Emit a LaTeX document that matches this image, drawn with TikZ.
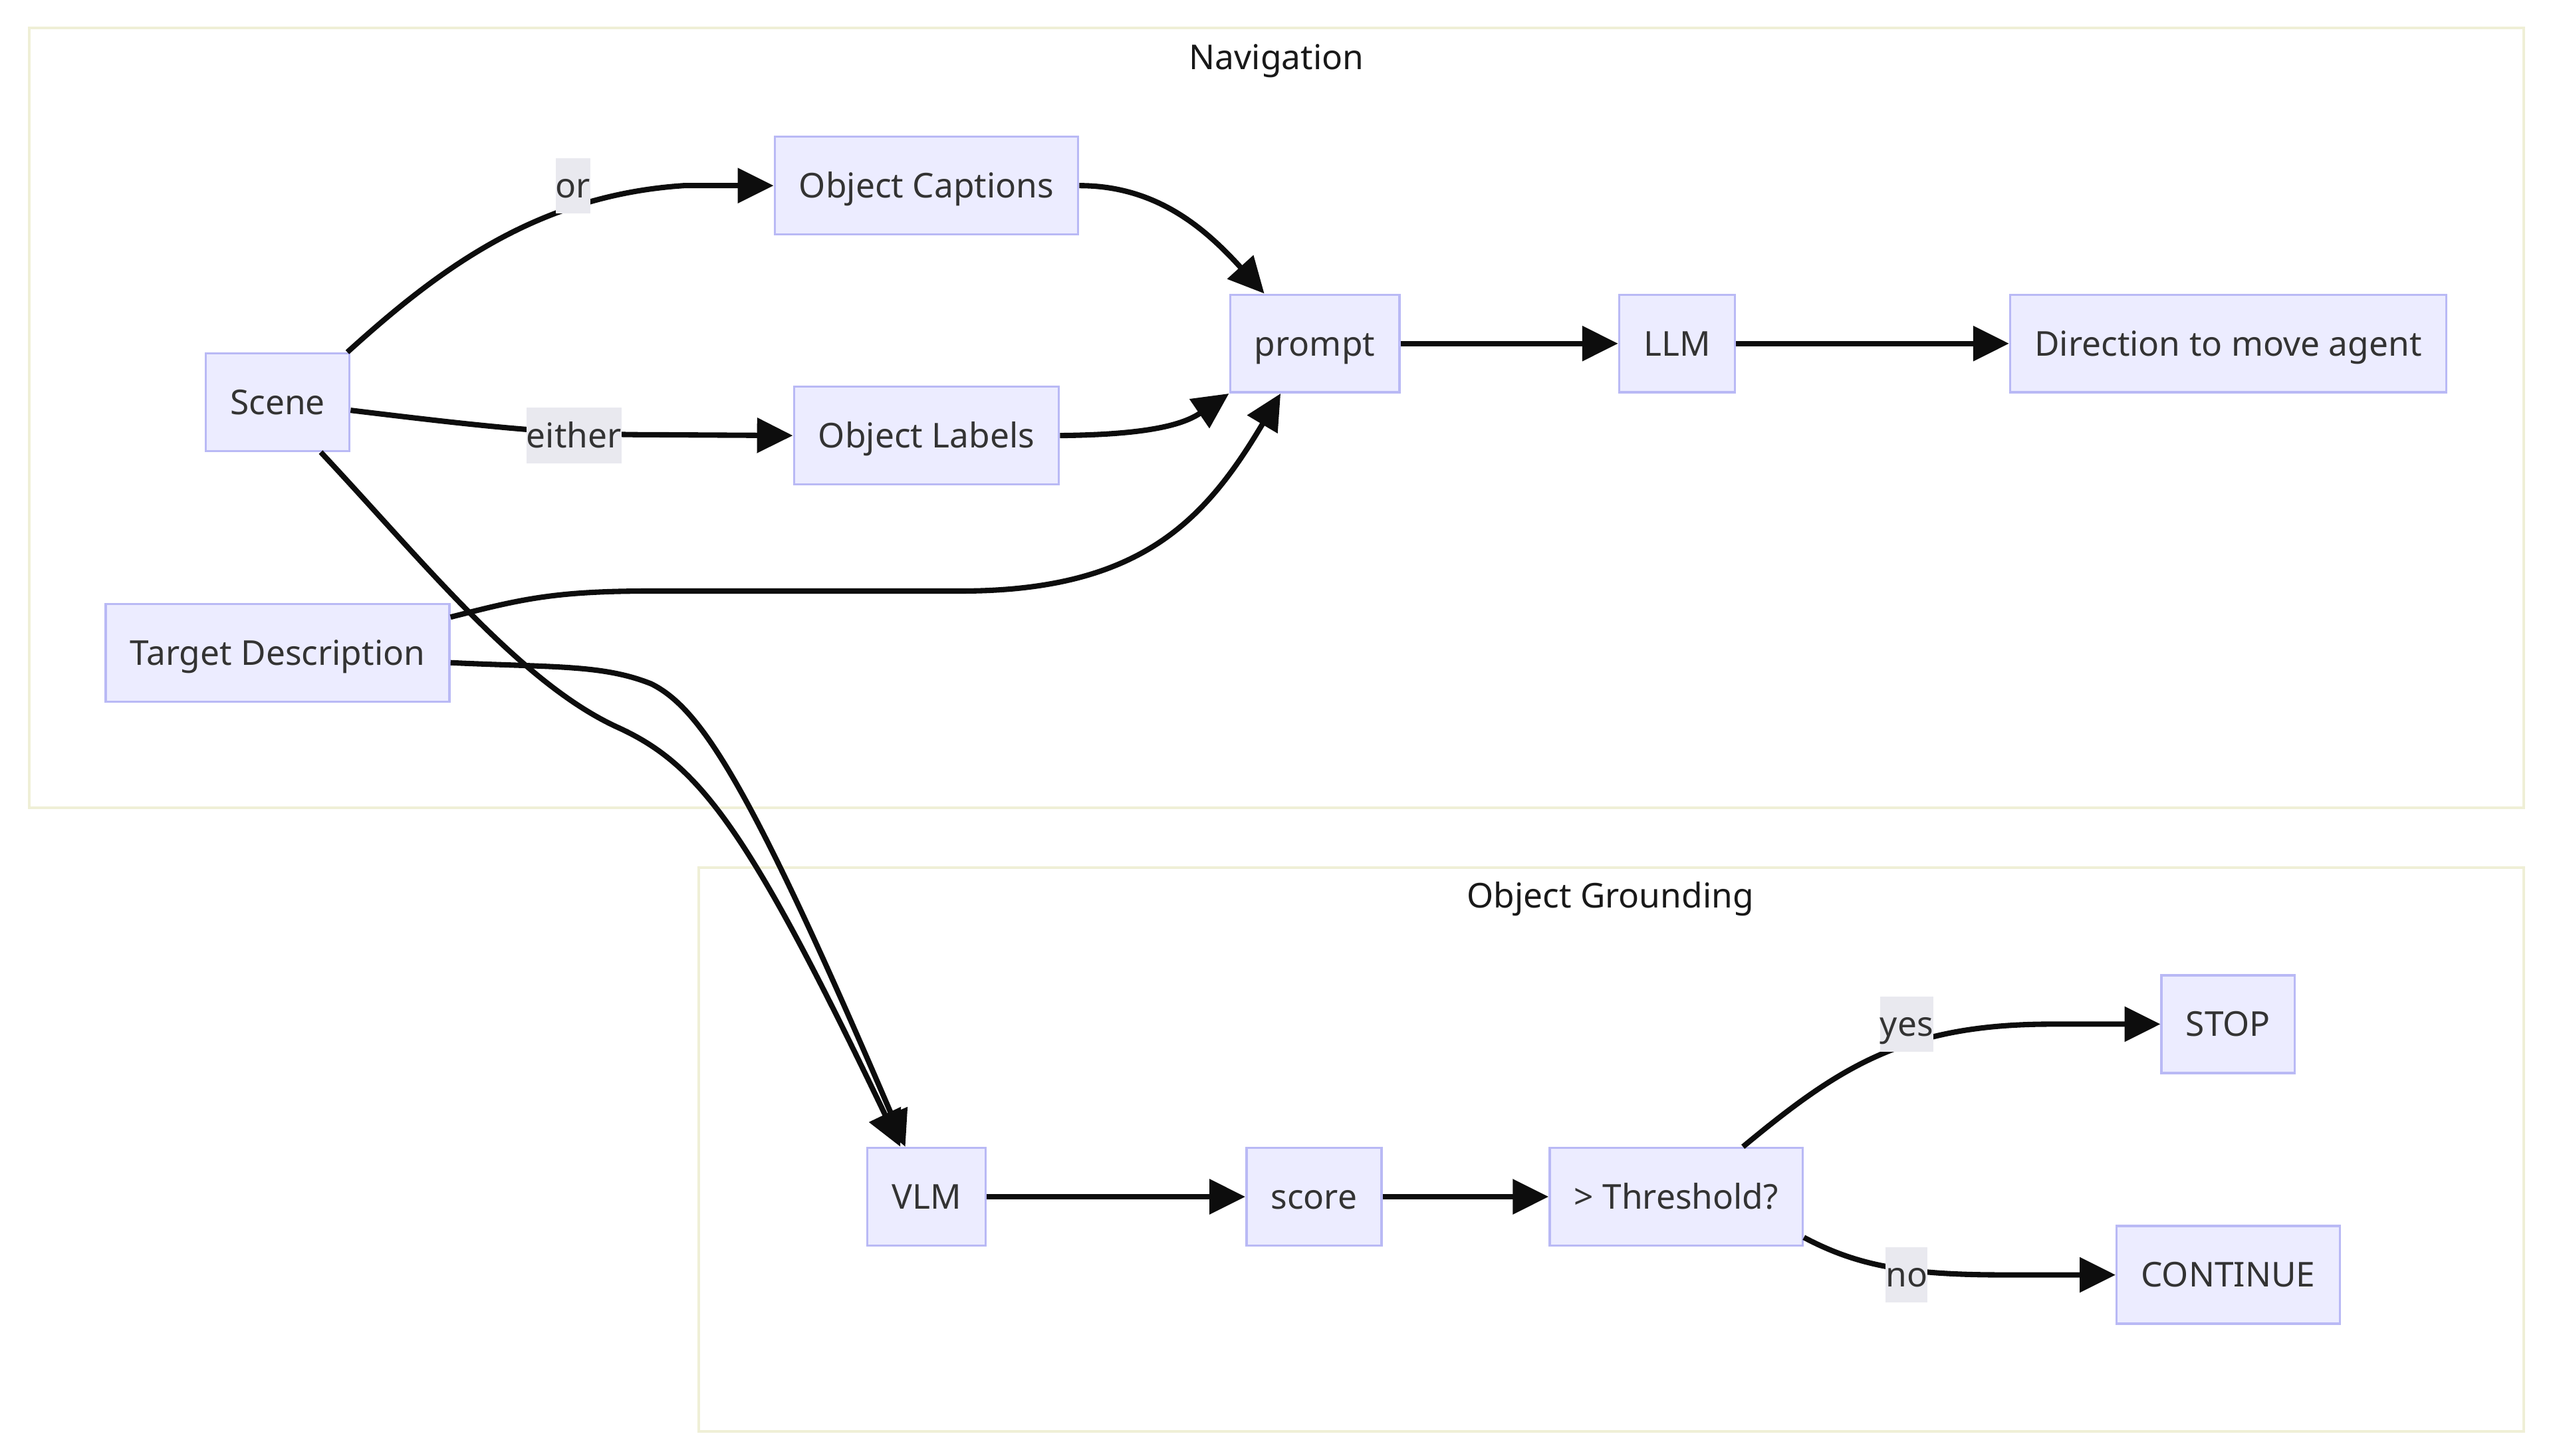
\documentclass[tikz,border=0pt]{standalone}
\usepackage{fontspec}
\setmainfont{Noto Sans}
\usetikzlibrary{arrows.meta}

\definecolor{boxfill}{HTML}{ECECFF}
\definecolor{boxline}{HTML}{B9B9F5}
\definecolor{grpline}{HTML}{EFEFD6}
\definecolor{lblfill}{HTML}{E9E9EF}
\definecolor{txtgray}{HTML}{333333}

\tikzset{
  box/.style={draw=boxline, fill=boxfill, line width=1.4pt, text=txtgray,
    minimum height=60pt, inner xsep=15pt, text height=15pt, text depth=0pt,
    font=\fontsize{21}{25}\selectfont},
  grp/.style={draw=grpline, line width=1.6pt},
  grptitle/.style={text=black!90, inner sep=0pt, text height=15pt, text depth=0pt,
    font=\fontsize{21}{25}\selectfont},
  elbl/.style={fill=lblfill, text=txtgray, inner xsep=0pt, inner ysep=0pt,
    minimum height=34pt, text height=15pt, text depth=0pt,
    font=\fontsize{21}{25}\selectfont},
  flow/.style={line width=3.3pt, draw=black!95, -{Triangle[length=22pt,width=21pt]}},
}

\begin{document}
\begin{tikzpicture}[x=1pt,y=-1pt]
\useasboundingbox (0,0) rectangle (1568,894);

% subgraphs
\draw[grp] (18,17) rectangle (1550,496);
\draw[grp] (429,533) rectangle (1550,879);
\node[grptitle] (navtitle) at (784,35) {Navigation};
\node[grptitle] (grdtitle) at (989,550) {Object Grounding};

% navigation
\node[box] (scene) at (170.5,247) {Scene};
\node[box] (tgt) at (170.5,401) {Target Description};
\node[box] (cap) at (569,114) {Object Captions};
\node[box] (lab) at (569,267.5) {Object Labels};
\node[box] (prompt) at (807.5,211) {prompt};
\node[box] (llm) at (1030,211) {LLM};
\node[box] (dir) at (1368.5,211) {Direction to move agent};

% grounding
\node[box] (vlm) at (569,735) {VLM};
\node[box] (score) at (807,735) {score};
\node[box] (thr) at (1029.5,735) {> Threshold?};
\node[box] (stop) at (1368.5,629) {STOP};
\node[box] (cont) at (1368.5,783) {CONTINUE};

% edges
\draw[flow] ([xshift=-2pt]scene.north east) .. controls (270,165) and (330,120) .. (420,114) -- (cap.west);
\draw[flow] ([yshift=-5pt]scene.east) .. controls (290,261) and (340,267) .. (400,267) -- (lab.west);
\draw[flow] (cap.east) .. controls (710,114) and (740,140) .. ([xshift=-31pt]prompt.north);
\draw[flow] (lab.east) .. controls (700,267) and (725,262) .. (prompt.south west);
\draw[flow] ([yshift=22pt]tgt.east) .. controls (320,368) and (340,363) .. (400,363) -- (590,363)
  .. controls (700,363) and (740,320) .. ([xshift=-21pt]prompt.south);
\draw[flow] (prompt.east) -- (llm.west);
\draw[flow] (llm.east) -- (dir.west);
\draw[flow] ([xshift=26.5pt]scene.south) .. controls (260,345) and (320,420) .. (380,447)
  .. controls (430,470) and (460,510) .. ([xshift=-16pt]vlm.north);
\draw[flow] ([yshift=-6pt]tgt.east) .. controls (340,410) and (370,408) .. (400,420)
  .. controls (430,435) and (460,480) .. ([xshift=-13pt]vlm.north);
\draw[flow] (vlm.east) -- (score.west);
\draw[flow] (score.east) -- (thr.west);
\draw[flow] ([xshift=41pt]thr.north) .. controls (1130,655) and (1170,629) .. (1260,629) -- (stop.west);
\draw[flow] ([yshift=-25pt]thr.east) .. controls (1140,777) and (1170,783) .. (1230,783) -- (cont.west);

% edge labels
\node[elbl] (lor) at (352,114) {or};
\node[elbl] (leither) at (352.5,267.5) {either};
\node[elbl] (lyes) at (1171,629) {yes};
\node[elbl] (lno) at (1171,783) {no};
\end{tikzpicture}
\end{document}
